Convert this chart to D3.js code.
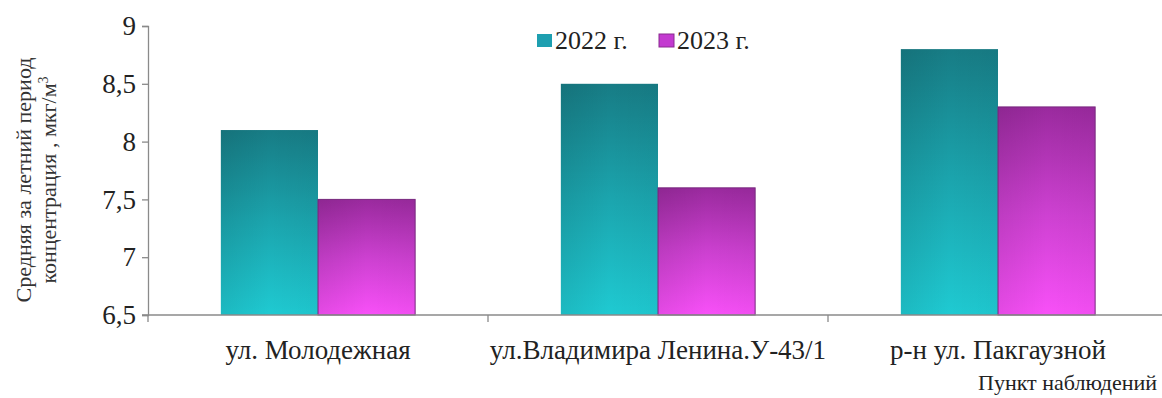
<!DOCTYPE html>
<html>
<head>
<meta charset="utf-8">
<script src="https://cdn.jsdelivr.net/npm/d3@7"></script>
</head>
<body style="margin:0">
<svg id="s" width="1162" height="398" style="font-family:'Liberation Serif'"></svg>
<script>
// Observation points and summer-average concentrations (мкг/м³)
const categories = ["ул. Молодежная", "ул.Владимира Ленина.У-43/1", "р-н ул. Пакгаузной"];
const seriesNames = ["2022 г.", "2023 г."];
const values2022 = [8.1, 8.5, 8.8];
const values2023 = [7.5, 7.6, 8.3];
const yTicks = [6.5, 7, 7.5, 8, 8.5, 9];
const yTickLabels = ["6,5", "7", "7,5", "8", "8,5", "9"];

const FONT = "Liberation Serif";
const serif = sel => sel.style("font-family", () => `'${FONT}'`);
const svg = d3.select("#s");
const plotLeft = 148, plotTop = 26, plotBottom = 315;
const catWidth = 340;

const x = d3.scaleBand()
  .domain(categories)
  .range([plotLeft, plotLeft + catWidth * categories.length])
  .paddingInner(0).paddingOuter(0);

// two bars per category, gap of 1.5 bar widths split on both sides
const inner = d3.scaleBand()
  .domain(seriesNames)
  .range([0, x.bandwidth()])
  .paddingInner(0)
  .paddingOuter(0.75);

const y = d3.scaleLinear().domain([6.5, 9]).range([plotBottom, plotTop]);

// Gradients for the two series
const defs = svg.append("defs");
function grad(id, stops) {
  const g = defs.append("linearGradient").attr("id", id)
    .attr("x1", 0).attr("y1", 0).attr("x2", 0).attr("y2", 1);
  stops.forEach(s => g.append("stop").attr("offset", s[0]).attr("stop-color", s[1]));
}
grad("g2022", [[0, "#177c85"], [0.5, "#1ba5ae"], [1, "#1fcad2"]]);
grad("g2023", [[0, "#9a2a9e"], [0.5, "#cc40d0"], [1, "#f850f8"]]);
// subtle left-edge shading
const hg = defs.append("linearGradient").attr("id", "shade")
  .attr("x1", 0).attr("y1", 0).attr("x2", 1).attr("y2", 0);
hg.append("stop").attr("offset", 0).attr("stop-color", "#000").attr("stop-opacity", 0.08);
hg.append("stop").attr("offset", 0.5).attr("stop-color", "#000").attr("stop-opacity", 0);
hg.append("stop").attr("offset", 1).attr("stop-color", "#000").attr("stop-opacity", 0.03);

const series = [
  { name: seriesNames[0], values: values2022, fill: "url(#g2022)", stroke: "none", swatch: "#1e9fb0" },
  { name: seriesNames[1], values: values2023, fill: "url(#g2023)", stroke: "#7a2a80", swatch: "#c33ad0" }
];

// Bars
series.forEach(s => {
  const g = svg.append("g");
  categories.forEach((c, i) => {
    const bx = x(c) + inner(s.name);
    const by = y(s.values[i]);
    g.append("rect")
      .attr("x", bx).attr("y", by)
      .attr("width", inner.bandwidth())
      .attr("height", y(6.5) - by)
      .attr("fill", s.fill)
      .attr("stroke", s.stroke).attr("stroke-width", s.stroke === "none" ? 0 : 1);
    g.append("rect")
      .attr("x", bx).attr("y", by)
      .attr("width", inner.bandwidth())
      .attr("height", y(6.5) - by)
      .attr("fill", "url(#shade)");
  });
});

// Y axis
const yAxis = d3.axisLeft(y).tickValues(yTicks)
  .tickFormat((d, i) => yTickLabels[i]).tickSize(6).tickPadding(6);
const gy = svg.append("g").attr("transform", `translate(${plotLeft},0)`).call(yAxis);
gy.attr("font-family", null).attr("font-size", null);
gy.select(".domain").attr("stroke", "#8a8a8a").attr("stroke-width", 1.3);
gy.selectAll(".tick line").attr("stroke", "#8a8a8a").attr("stroke-width", 1.3);
gy.selectAll(".tick text").attr("fill", "#222").attr("font-size", 27).call(serif);

// X axis line with boundary ticks
const xAxisG = svg.append("g");
xAxisG.append("line")
  .attr("x1", plotLeft - 6).attr("x2", 1162).attr("y1", plotBottom).attr("y2", plotBottom)
  .attr("stroke", "#8a8a8a").attr("stroke-width", 1.3);
xAxisG.selectAll("line.bound").data(categories).join("line").attr("class", "bound")
  .attr("x1", d => x(d)).attr("x2", d => x(d))
  .attr("y1", plotBottom).attr("y2", plotBottom + 7)
  .attr("stroke", "#8a8a8a").attr("stroke-width", 1.3);
svg.selectAll("text.cat").data(categories).join("text").attr("class", "cat")
  .attr("x", d => x(d) + x.bandwidth() / 2).attr("y", plotBottom + 44)
  .attr("text-anchor", "middle").attr("fill", "#222")
  .attr("font-size", 27).call(serif)
  .text(d => d);

// X axis title
svg.append("text")
  .attr("x", 1157).attr("y", 390)
  .attr("text-anchor", "end").attr("fill", "#222")
  .attr("font-size", 22).call(serif)
  .text("Пункт наблюдений");

// Y axis title (two lines)
const yt = svg.append("text")
  .attr("transform", "translate(31,180) rotate(-90)")
  .attr("text-anchor", "middle").attr("fill", "#333")
  .attr("font-size", 22).call(serif);
yt.append("tspan").attr("x", 0).attr("dy", 0).text("Средняя за летний период");
const l2 = yt.append("tspan").attr("x", 0).attr("dy", 25);
l2.append("tspan").text("концентрация , мкг/м");
l2.append("tspan").attr("font-size", 14).attr("dy", -8).text("3");

// Legend
const legend = svg.append("g").attr("transform", "translate(537,40)");
const items = legend.selectAll("g").data(series).join("g")
  .attr("transform", (d, i) => `translate(${i * 122},0)`);
items.append("rect").attr("x", 0).attr("y", -6).attr("width", 15).attr("height", 13)
  .attr("fill", d => d.swatch).attr("stroke", (d, i) => i === 1 ? "#8a2a90" : "none");
items.append("text").attr("x", 18).attr("y", 0).attr("dy", "0.35em")
  .attr("fill", "#222").attr("font-size", 26).call(serif)
  .text(d => d.name);
</script>
</body>
</html>
